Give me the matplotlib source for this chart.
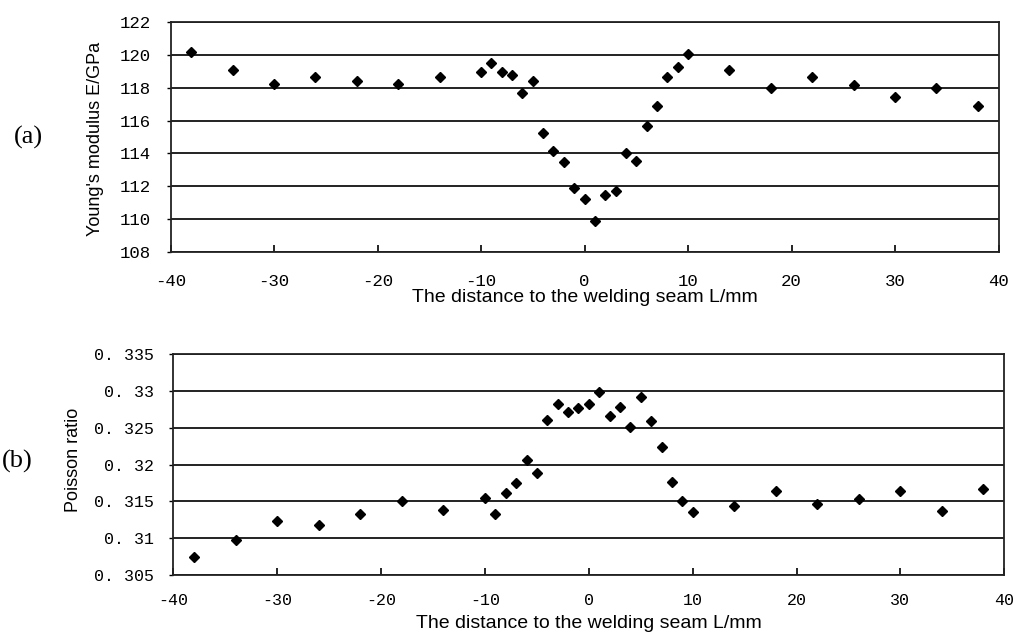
import matplotlib
matplotlib.use("Agg")
import matplotlib.pyplot as plt

# (a) Young's modulus
dist_a = [-38, -34, -30, -26, -22, -18, -14, -10, -9, -8, -7, -6, -5, -4, -3, -2, -1, 0,
          1, 2, 3, 4, 5, 6, 7, 8, 9, 10, 14, 18, 22, 26, 30, 34, 38]
young = [120.15, 119.1, 118.2, 118.65, 118.4, 118.2, 118.65, 118.94, 119.5, 118.94, 118.8,
         117.7, 118.4, 115.25, 114.15, 113.46, 111.9, 111.25, 109.9, 111.45, 111.7, 114.0,
         113.52, 115.7, 116.9, 118.65, 119.24, 120.05, 119.08, 117.96, 118.65, 118.15,
         117.42, 117.96, 116.9]

# (b) Poisson ratio
dist_b = [-38, -34, -30, -26, -22, -18, -14, -10, -9, -8, -7, -6, -5, -4, -3, -2, -1, 0,
          1, 2, 3, 4, 5, 6, 7, 8, 9, 10, 14, 18, 22, 26, 30, 34, 38]
poisson = [0.3075, 0.3098, 0.3124, 0.3118, 0.3133, 0.3150, 0.3138, 0.3154, 0.3133, 0.3161,
           0.3175, 0.3206, 0.3188, 0.3261, 0.3283, 0.3272, 0.3277, 0.3283, 0.3299, 0.3266,
           0.3279, 0.3251, 0.3292, 0.3259, 0.3224, 0.3177, 0.3150, 0.3135, 0.3144, 0.3164,
           0.3147, 0.3153, 0.3164, 0.3137, 0.3167]

x_ticks = [-40, -30, -20, -10, 0, 10, 20, 30, 40]
young_ticks = [108, 110, 112, 114, 116, 118, 120, 122]
poisson_ticks = [0.305, 0.31, 0.315, 0.32, 0.325, 0.33, 0.335]
poisson_labels = ["0. 305", "0. 31", "0. 315", "0. 32", "0. 325", "0. 33", "0. 335"]

xlabel = "The distance to the welding seam L/mm"
mono = "Liberation Mono"
sans = "Liberation Sans"

fig = plt.figure(figsize=(10.15, 6.35), dpi=100)
ax1 = fig.add_axes([0.168, 0.6031, 0.8158, 0.3622])
ax2 = fig.add_axes([0.1709, 0.0945, 0.8185, 0.3476])


def style(ax, yticks, ylabels, fs, xpad):
    ax.set_xlim(-40, 40)
    ax.set_xticks(x_ticks)
    ax.set_xticklabels([str(t) for t in x_ticks], family=mono, fontsize=fs)
    ax.set_ylim(yticks[0], yticks[-1])
    ax.set_yticks(yticks)
    ax.set_yticklabels(ylabels, family=mono, fontsize=fs)
    ax.tick_params(axis="x", direction="in", length=5, width=1.2, pad=xpad)
    ax.tick_params(axis="y", direction="out", length=3, width=1.0, pad=11)
    ax.yaxis.grid(True, color="#111111", linewidth=1.3)
    ax.set_axisbelow(True)
    for sp in ax.spines.values():
        sp.set_linewidth(1.3)
        sp.set_color("#222222")


ax1.plot(dist_a, young, "D", color="black", markersize=5.5, zorder=3)
style(ax1, young_ticks, [str(t) for t in young_ticks], 12.5, 16)
ax1.set_xlabel(xlabel, family=sans, fontsize=14, va="center")
ax1.xaxis.set_label_coords(0.5, -0.196)
ax1.set_ylabel("Young's modulus E/GPa", family=sans, fontsize=13, va="center")
ax1.yaxis.set_label_coords(-0.091, 0.49)

ax2.plot(dist_b, poisson, "D", color="black", markersize=5.5, zorder=3)
style(ax2, poisson_ticks, poisson_labels, 12, 13)
ax2.set_xlabel(xlabel, family=sans, fontsize=14, va="center")
ax2.xaxis.set_label_coords(0.5, -0.2175)
ax2.set_ylabel("Poisson ratio", family=sans, fontsize=13, va="center")
ax2.yaxis.set_label_coords(-0.12, 0.52)

fig.text(0.0276, 0.783, "(a)", family="Liberation Serif", fontsize=19, ha="center", va="center")
fig.text(0.017, 0.274, "(b)", family="Liberation Serif", fontsize=19, ha="center", va="center")

fig.savefig("out.png", dpi=100)
